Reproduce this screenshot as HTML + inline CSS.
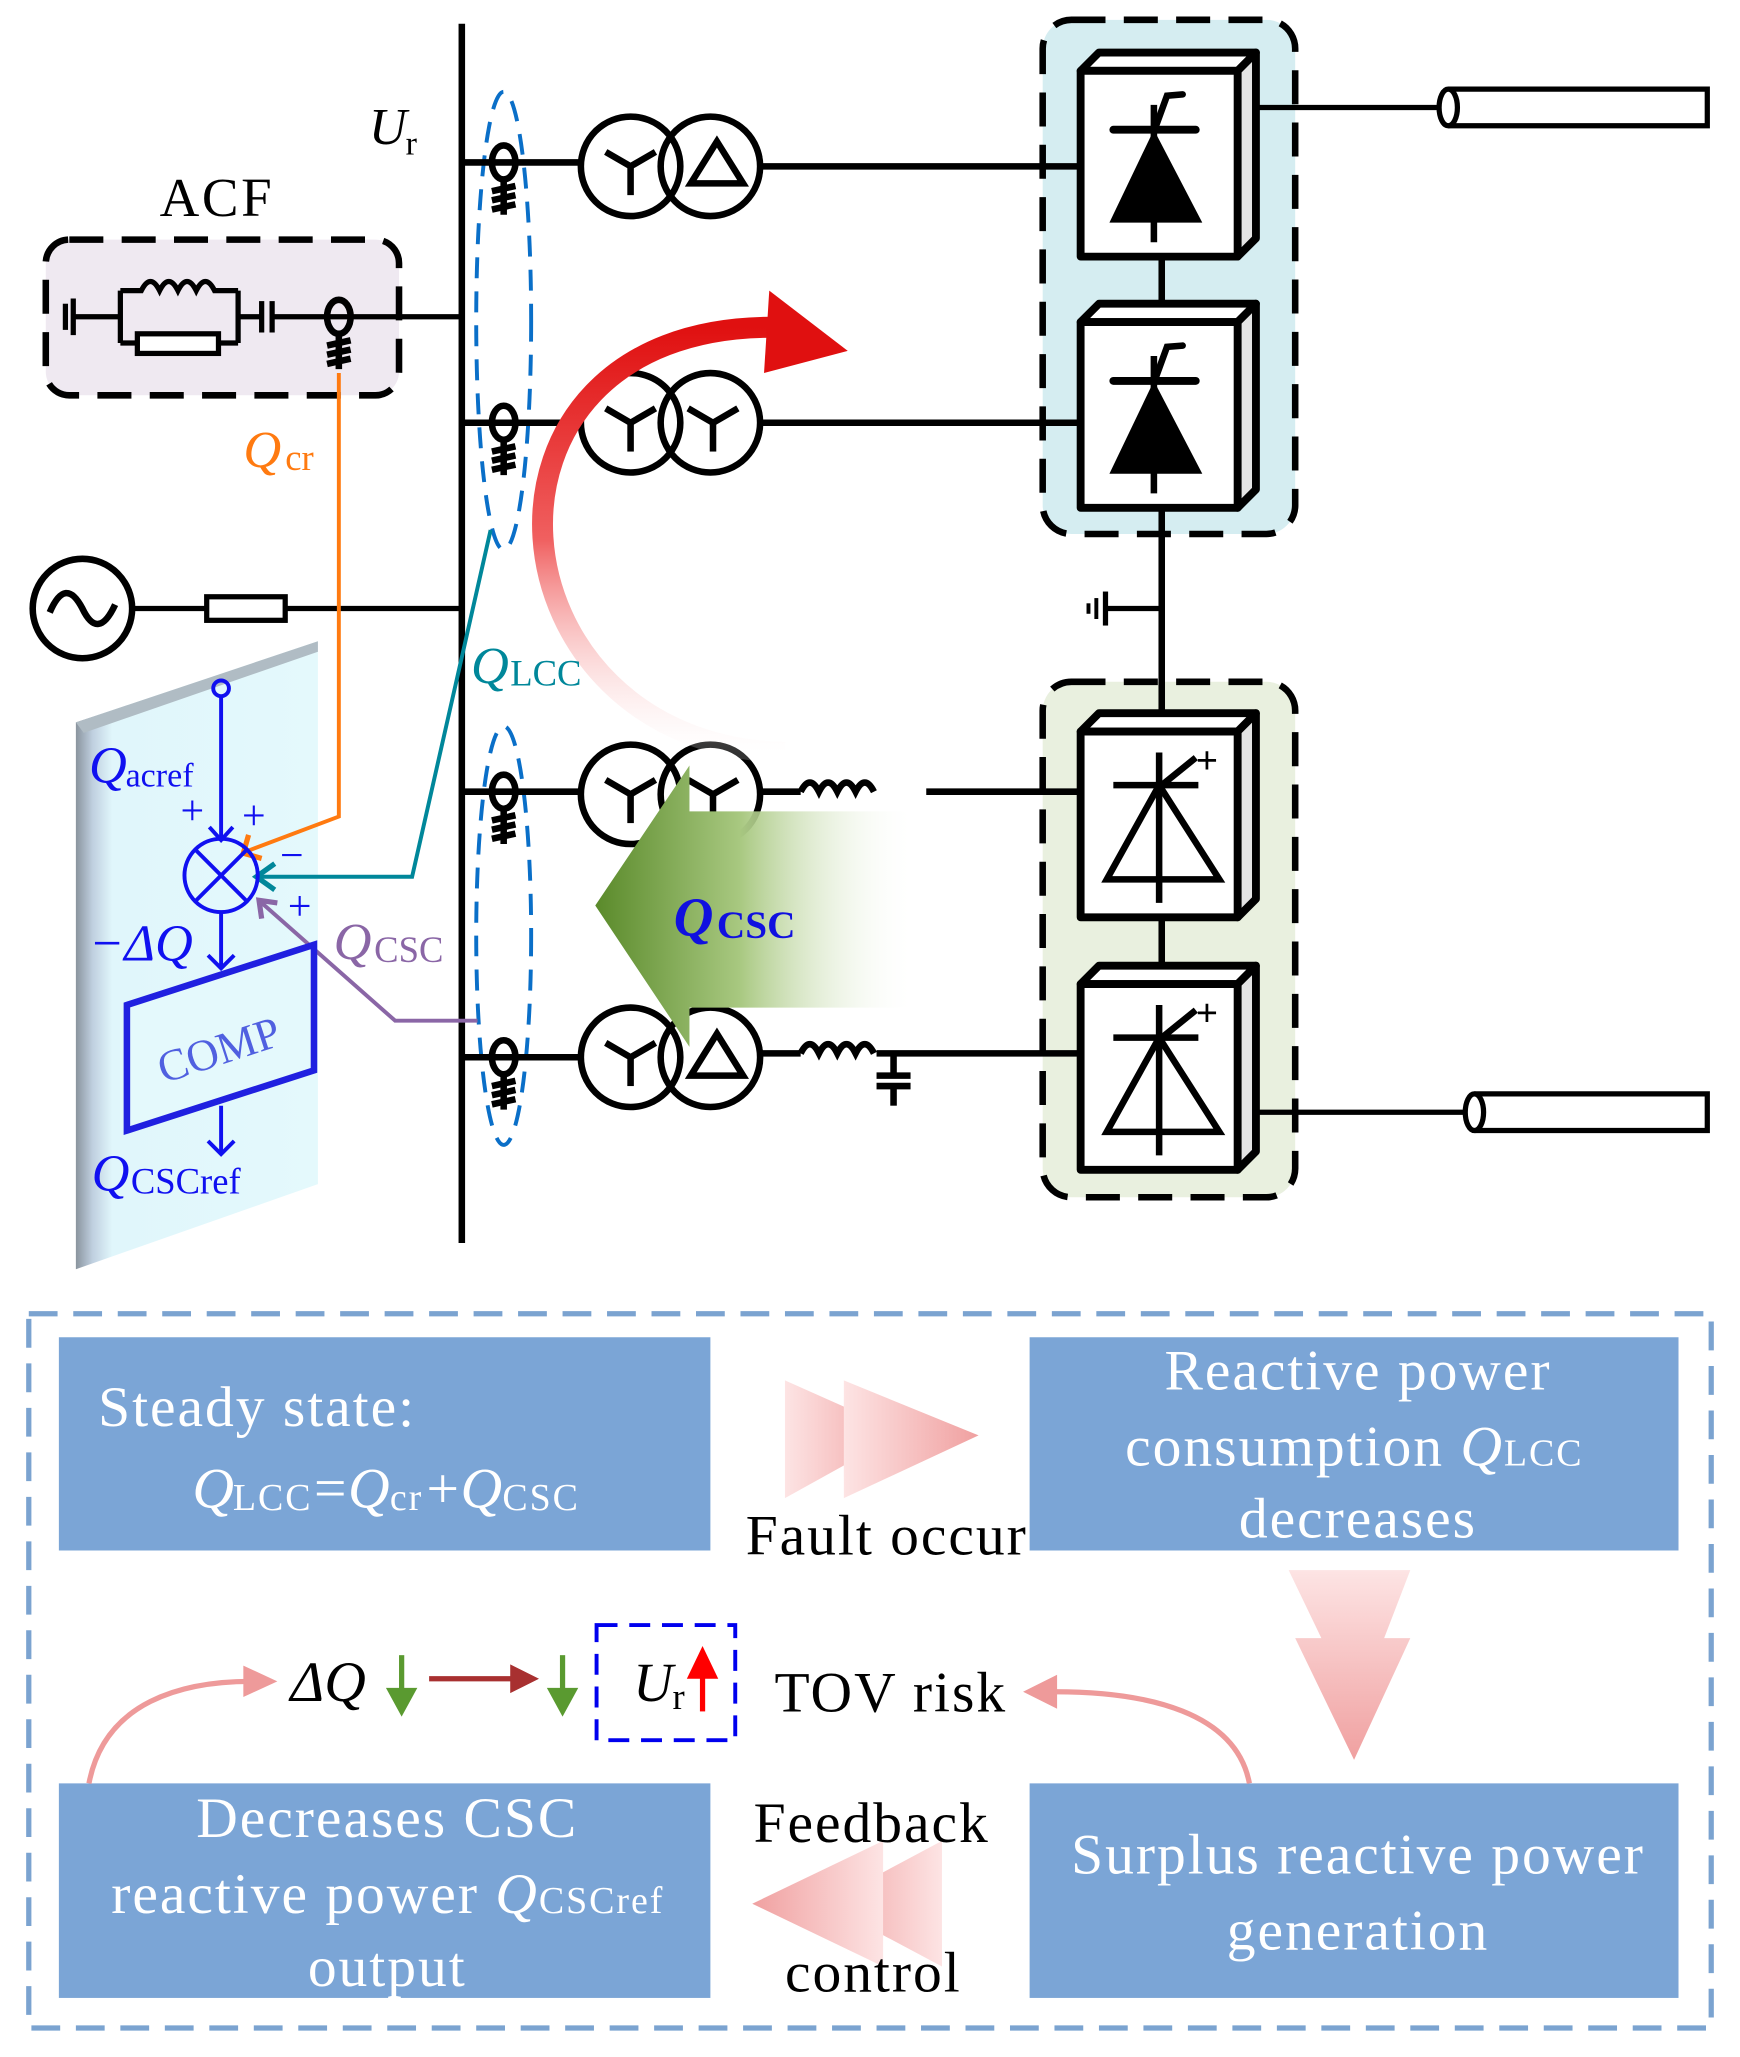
<!DOCTYPE html>
<html><head><meta charset="utf-8"><style>
html,body{margin:0;padding:0;background:#fff;}
svg{display:block;font-family:"Liberation Serif",serif;}
</style></head><body>
<svg width="1740" height="2057" viewBox="0 0 1330 1572" xmlns="http://www.w3.org/2000/svg">
<defs>
<linearGradient id="red" x1="0" y1="1" x2="0" y2="0">
<stop offset="0" stop-color="#ffffff" stop-opacity="0.2"/>
<stop offset="0.5" stop-color="#f06060"/>
<stop offset="1" stop-color="#e01010"/>
</linearGradient>
<linearGradient id="grn" x1="0" y1="0" x2="1" y2="0">
<stop offset="0" stop-color="#5a8a2a"/>
<stop offset="0.45" stop-color="#a8c880"/>
<stop offset="1" stop-color="#ffffff" stop-opacity="0"/>
</linearGradient>
<linearGradient id="pinkR" x1="0" y1="0" x2="1" y2="0">
<stop offset="0" stop-color="#fde4e4"/><stop offset="1" stop-color="#f0a0a0"/>
</linearGradient>
<linearGradient id="pinkL" x1="1" y1="0" x2="0" y2="0">
<stop offset="0" stop-color="#fde4e4"/><stop offset="1" stop-color="#f0a0a0"/>
</linearGradient>
<linearGradient id="pinkD" x1="0" y1="0" x2="0" y2="1">
<stop offset="0" stop-color="#fde4e4"/><stop offset="1" stop-color="#f0a0a0"/>
</linearGradient>
<linearGradient id="panel" x1="0" y1="0" x2="1" y2="0">
<stop offset="0" stop-color="#8a949e"/><stop offset="0.07" stop-color="#c0d0e0"/><stop offset="0.15" stop-color="#e0f6fb"/><stop offset="1" stop-color="#e4f9fc"/>
</linearGradient>
<g id="ct" fill="none" stroke="#000" stroke-width="5">
<ellipse cx="0" cy="0" rx="9" ry="13"/>
<line x1="0" y1="13" x2="0" y2="40"/>
<line x1="-9" y1="22" x2="9" y2="18"/><line x1="-9" y1="29" x2="9" y2="25"/><line x1="-9" y1="36" x2="9" y2="32"/>
</g>
<g id="Y" fill="none" stroke="#000" stroke-width="5">
<line x1="0" y1="0" x2="0" y2="22"/><line x1="0" y1="0" x2="-19" y2="-11"/><line x1="0" y1="0" x2="19" y2="-11"/>
</g>
<g id="blk" stroke="#000" stroke-width="6" stroke-linejoin="round">
<polygon points="0,14 14,0 134,0 120,14" fill="#fff"/>
<polygon points="120,14 134,0 134,142 120,156" fill="#e4e4e4"/>
<rect x="0" y="14" width="120" height="142" fill="#fff"/>
</g>
</defs>

<rect x="797" y="15" width="193" height="393" rx="22" fill="#d5edf1" stroke="#000" stroke-width="5" stroke-dasharray="26,14"/>
<rect x="797" y="521" width="193" height="394" rx="22" fill="#e9f0df" stroke="#000" stroke-width="5" stroke-dasharray="26,14"/>
<line x1="888" y1="190" x2="888" y2="560" stroke="#000" stroke-width="5"/>
<line x1="888" y1="690" x2="888" y2="760" stroke="#000" stroke-width="5"/>
<line x1="845" y1="465" x2="888" y2="465" stroke="#000" stroke-width="4"/>
<line x1="845" y1="452" x2="845" y2="478" stroke="#000" stroke-width="4"/>
<line x1="838" y1="457" x2="838" y2="473" stroke="#000" stroke-width="3"/>
<line x1="832" y1="461" x2="832" y2="469" stroke="#000" stroke-width="3"/>

<g transform="translate(826,40)"><use href="#blk"/>
<line x1="25" y1="59" x2="88" y2="59" stroke="#000" stroke-width="6" stroke-linecap="round"/>
<polygon points="56,59 22,130 93,130" fill="#000"/>
<line x1="56" y1="40" x2="56" y2="145" stroke="#000" stroke-width="5"/>
<path d="M58 55 L66 33 L78 32" fill="none" stroke="#000" stroke-width="5" stroke-linecap="round"/></g>
<g transform="translate(826,232)"><use href="#blk"/>
<line x1="25" y1="59" x2="88" y2="59" stroke="#000" stroke-width="6" stroke-linecap="round"/>
<polygon points="56,59 22,130 93,130" fill="#000"/>
<line x1="56" y1="40" x2="56" y2="145" stroke="#000" stroke-width="5"/>
<path d="M58 55 L66 33 L78 32" fill="none" stroke="#000" stroke-width="5" stroke-linecap="round"/></g>
<g transform="translate(826,545)"><use href="#blk"/>
<line x1="25" y1="55" x2="90" y2="55" stroke="#000" stroke-width="5"/>
<polygon points="60,55 20,127 106,127" fill="none" stroke="#000" stroke-width="5"/>
<line x1="60" y1="30" x2="60" y2="145" stroke="#000" stroke-width="5"/>
<line x1="62" y1="55" x2="88" y2="34" stroke="#000" stroke-width="5"/>
<text x="88" y="46" font-size="30" font-weight="bold">+</text></g>
<g transform="translate(826,738)"><use href="#blk"/>
<line x1="25" y1="55" x2="90" y2="55" stroke="#000" stroke-width="5"/>
<polygon points="60,55 20,127 106,127" fill="none" stroke="#000" stroke-width="5"/>
<line x1="60" y1="30" x2="60" y2="145" stroke="#000" stroke-width="5"/>
<line x1="62" y1="55" x2="88" y2="34" stroke="#000" stroke-width="5"/>
<text x="88" y="46" font-size="30" font-weight="bold">+</text></g>

<line x1="960" y1="82" x2="1100" y2="82" stroke="#000" stroke-width="4"/>
<path d="M1107 68 L1305 68 L1305 96 L1107 96" fill="#fff" stroke="#000" stroke-width="4"/>
<ellipse cx="1107" cy="82" rx="7" ry="14" fill="#fff" stroke="#000" stroke-width="4"/>
<line x1="960" y1="850" x2="1120" y2="850" stroke="#000" stroke-width="4"/>
<path d="M1127 836 L1305 836 L1305 864 L1127 864" fill="#fff" stroke="#000" stroke-width="4"/>
<ellipse cx="1127" cy="850" rx="7" ry="14" fill="#fff" stroke="#000" stroke-width="4"/>

<line x1="353" y1="18" x2="353" y2="950" stroke="#000" stroke-width="5"/>
<text x="282" y="110" font-size="40" font-style="italic">U</text><text x="310" y="118" font-size="26">r</text>

<text x="122" y="165" font-size="42" letter-spacing="2">ACF</text>
<rect x="35" y="183" width="270" height="119" rx="18" fill="#efe9f1" stroke="#000" stroke-width="5" stroke-dasharray="26,14"/>
<g stroke="#000" stroke-width="4" fill="none">
<line x1="50" y1="232" x2="50" y2="252"/><line x1="56" y1="228" x2="56" y2="256"/>
<line x1="56" y1="242" x2="92" y2="242"/>
<line x1="92" y1="222" x2="92" y2="262"/><line x1="182" y1="222" x2="182" y2="262"/>
<path d="M92 222 L108 222 q7 -14 14 0 q7 -14 14 0 q7 -14 14 0 q7 -14 14 0 L182 222"/>
<rect x="105" y="255" width="62" height="15" fill="#fff"/>
<line x1="92" y1="262" x2="105" y2="262"/><line x1="167" y1="262" x2="182" y2="262"/>
<line x1="182" y1="242" x2="200" y2="242"/>
<line x1="200" y1="230" x2="200" y2="254"/><line x1="208" y1="230" x2="208" y2="254"/>
<line x1="208" y1="242" x2="353" y2="242"/>
</g>
<use href="#ct" x="259" y="242"/>

<circle cx="63" cy="465" r="38" fill="#fff" stroke="#000" stroke-width="5"/>
<path d="M38 468 q12 -28 25 -3 q12 25 25 -3" fill="none" stroke="#000" stroke-width="5"/>
<line x1="101" y1="465" x2="353" y2="465" stroke="#000" stroke-width="4"/>
<rect x="158" y="456" width="60" height="18" fill="#fff" stroke="#000" stroke-width="4"/>

<ellipse cx="385" cy="245" rx="21" ry="175" fill="none" stroke="#0a6fc8" stroke-width="3" stroke-dasharray="16,10"/>
<ellipse cx="385" cy="715" rx="21" ry="160" fill="none" stroke="#0a6fc8" stroke-width="3" stroke-dasharray="16,10"/>

<g stroke="#000" stroke-width="5" fill="none">
<line x1="353" y1="124" x2="444" y2="124"/><line x1="582" y1="127" x2="826" y2="127"/>
<line x1="353" y1="323" x2="444" y2="323"/><line x1="582" y1="323" x2="826" y2="323"/>
<line x1="353" y1="605" x2="444" y2="605"/><line x1="582" y1="605" x2="612" y2="605"/><line x1="708" y1="605" x2="826" y2="605"/>
<line x1="353" y1="808" x2="444" y2="808"/><line x1="582" y1="805" x2="612" y2="805"/><line x1="670" y1="805" x2="826" y2="805"/>
<path d="M612 605 q7 -14 14 0 q7 -14 14 0 q7 -14 14 0 q7 -14 14 0" />
<path d="M612 805 q7 -14 14 0 q7 -14 14 0 q7 -14 14 0 q7 -14 14 0" />
<line x1="683" y1="805" x2="683" y2="822"/><line x1="670" y1="822" x2="696" y2="822"/><line x1="670" y1="830" x2="696" y2="830"/><line x1="683" y1="830" x2="683" y2="845"/>
<circle cx="482" cy="127" r="38"/><circle cx="543" cy="127" r="38"/>
<circle cx="482" cy="323" r="38"/><circle cx="543" cy="323" r="38"/>
<circle cx="482" cy="607" r="38"/><circle cx="543" cy="607" r="38"/>
<circle cx="482" cy="808" r="38"/><circle cx="543" cy="808" r="38"/>
<polygon points="548,108 528,140 568,140"/>
<polygon points="548,790 528,822 568,822"/>
</g>
<use href="#Y" x="482" y="127"/><use href="#Y" x="482" y="323"/><use href="#Y" x="545" y="323"/>
<use href="#Y" x="482" y="607"/><use href="#Y" x="545" y="607"/><use href="#Y" x="482" y="808"/>
<use href="#ct" x="385" y="124"/><use href="#ct" x="385" y="323"/><use href="#ct" x="385" y="605"/><use href="#ct" x="385" y="808"/>

<path d="M600 575 C 370 570, 340 250, 590 250" fill="none" stroke="url(#red)" stroke-width="16"/>
<polygon points="588,222 648,268 584,285" fill="#e01010"/>

<polygon points="455,692 527,585 527,620 700,620 700,770 527,770 527,800" fill="url(#grn)"/>
<text x="515" y="715" font-size="42" font-style="italic" font-weight="bold" fill="#1010e0">Q</text>
<text x="548" y="717" font-size="30" font-weight="bold" fill="#1010e0">CSC</text>

<polygon points="58,552 243,490 243,905 58,970" fill="url(#panel)"/>
<polygon points="58,552 243,490 243,498 64,560" fill="#b0bcc4"/>
<text x="360" y="522" font-size="40" font-style="italic" fill="#00879a">Q</text><text x="390" y="524" font-size="28" fill="#00879a">LCC</text>
<text x="186" y="357" font-size="40" font-style="italic" fill="#ff7a10">Q</text><text x="218" y="359" font-size="28" fill="#ff7a10">cr</text>
<text x="255" y="733" font-size="40" font-style="italic" fill="#8a66a6">Q</text><text x="286" y="735" font-size="28" fill="#8a66a6">CSC</text>
<path d="M259 285 L259 624 L190 650" fill="none" stroke="#ff7a10" stroke-width="3"/>
<path d="M190 638 L186 652 L200 656" fill="none" stroke="#ff7a10" stroke-width="4"/>
<path d="M375 405 L315 670 L198 670" fill="none" stroke="#00879a" stroke-width="3"/>
<path d="M210 660 L196 670 L210 680" fill="none" stroke="#00879a" stroke-width="4"/>
<path d="M365 780 L302 780 L200 690" fill="none" stroke="#8a66a6" stroke-width="3"/>
<path d="M200 702 L198 688 L212 690" fill="none" stroke="#8a66a6" stroke-width="4"/>
<g fill="none" stroke="#1010f0" stroke-width="3">
<circle cx="169" cy="526" r="6"/>
<line x1="169" y1="532" x2="169" y2="642"/>
<path d="M160 632 L169 642 L178 632"/>
<circle cx="169" cy="669" r="28"/>
<line x1="149" y1="649" x2="189" y2="689"/><line x1="189" y1="649" x2="149" y2="689"/>
<line x1="169" y1="697" x2="169" y2="740"/><path d="M159 730 L169 740 L179 730"/>
<line x1="169" y1="845" x2="169" y2="882"/><path d="M159 872 L169 882 L179 872"/>
</g>
<polygon points="97,768 240,722 240,818 97,864" fill="#e4f9fc" stroke="#2020e0" stroke-width="5"/>
<text x="0" y="0" font-size="34" fill="#5060e0" transform="translate(125,828) rotate(-18)">COMP</text>
<g fill="#1010f0">
<text x="68" y="598" font-size="40" font-style="italic">Q</text><text x="96" y="601" font-size="26">acref</text>
<text x="138" y="630" font-size="32">+</text><text x="185" y="634" font-size="32">+</text>
<text x="214" y="664" font-size="32">−</text><text x="220" y="703" font-size="32">+</text>
<text x="68" y="734" font-size="40" font-style="italic">−ΔQ</text>
<text x="70" y="910" font-size="40" font-style="italic">Q</text><text x="100" y="912" font-size="28">CSCref</text>
</g>

<rect x="22" y="1004" width="1286" height="546" fill="none" stroke="#7ba3d0" stroke-width="4" stroke-dasharray="22,12"/>
<g fill="#7ba5d6">
<rect x="45" y="1022" width="498" height="163"/>
<rect x="787" y="1022" width="496" height="163"/>
<rect x="45" y="1363" width="498" height="164"/>
<rect x="787" y="1363" width="496" height="164"/>
</g>
<g fill="#fff" font-size="44" letter-spacing="1.5">
<text x="75" y="1090">Steady state:</text>
<text x="147" y="1152" font-style="italic">Q</text><text x="178" y="1154" font-size="29">LCC</text><text x="240" y="1152">=</text><text x="266" y="1152" font-style="italic">Q</text><text x="298" y="1154" font-size="29">cr</text><text x="326" y="1152">+</text><text x="352" y="1152" font-style="italic">Q</text><text x="384" y="1154" font-size="29">CSC</text>
<text x="1038" y="1062" text-anchor="middle">Reactive power</text>
<text x="860" y="1120">consumption <tspan font-style="italic">Q</tspan><tspan font-size="29">LCC</tspan></text>
<text x="1038" y="1175" text-anchor="middle">decreases</text>
<text x="296" y="1404" text-anchor="middle">Decreases CSC</text>
<text x="85" y="1462">reactive power <tspan font-style="italic">Q</tspan><tspan font-size="29">CSCref</tspan></text>
<text x="296" y="1518" text-anchor="middle">output</text>
<text x="1038" y="1432" text-anchor="middle">Surplus reactive power</text>
<text x="1038" y="1490" text-anchor="middle">generation</text>
</g>
<polygon points="600,1055 690,1095 600,1145" fill="url(#pinkR)"/>
<polygon points="645,1055 748,1097 645,1145" fill="url(#pinkR)"/>
<polygon points="720,1407 630,1455 720,1503" fill="url(#pinkL)"/>
<polygon points="675,1407 575,1455 675,1503" fill="url(#pinkL)"/>
<polygon points="985,1200 1078,1200 1058,1252 1078,1252 1035,1345 990,1252 1010,1252" fill="url(#pinkD)"/>
<g font-size="44" fill="#000" letter-spacing="1.5">
<text x="570" y="1188">Fault occur</text>
<text x="576" y="1408">Feedback</text>
<text x="600" y="1522">control</text>
<text x="592" y="1308">TOV risk</text>
<text x="222" y="1300" font-style="italic" letter-spacing="0">ΔQ</text>
<text x="484" y="1300" font-style="italic" font-size="42" letter-spacing="0">U</text><text x="514" y="1306" font-size="28">r</text>
</g>
<path d="M68 1363 C 80 1300, 140 1285, 192 1285" fill="none" stroke="#ee9a9a" stroke-width="4"/>
<polygon points="212,1285 186,1273 186,1297" fill="#ee9a9a"/>
<path d="M955 1363 C 945 1310, 880 1292, 800 1293" fill="none" stroke="#ee9a9a" stroke-width="4"/>
<polygon points="782,1293 808,1280 808,1306" fill="#ee9a9a"/>
<line x1="307" y1="1265" x2="307" y2="1295" stroke="#5a9a30" stroke-width="4"/>
<polygon points="295,1290 319,1290 307,1312" fill="#5a9a30"/>
<line x1="430" y1="1265" x2="430" y2="1295" stroke="#5a9a30" stroke-width="4"/>
<polygon points="418,1290 442,1290 430,1312" fill="#5a9a30"/>
<line x1="328" y1="1283" x2="395" y2="1283" stroke="#a83030" stroke-width="4"/>
<polygon points="412,1283 390,1272 390,1294" fill="#a83030"/>
<rect x="456" y="1242" width="106" height="88" fill="none" stroke="#0000ee" stroke-width="3" stroke-dasharray="16,9"/>
<line x1="537" y1="1280" x2="537" y2="1308" stroke="#f00" stroke-width="4"/>
<polygon points="525,1283 549,1283 537,1258" fill="#f00"/>
</svg>
</body></html>
